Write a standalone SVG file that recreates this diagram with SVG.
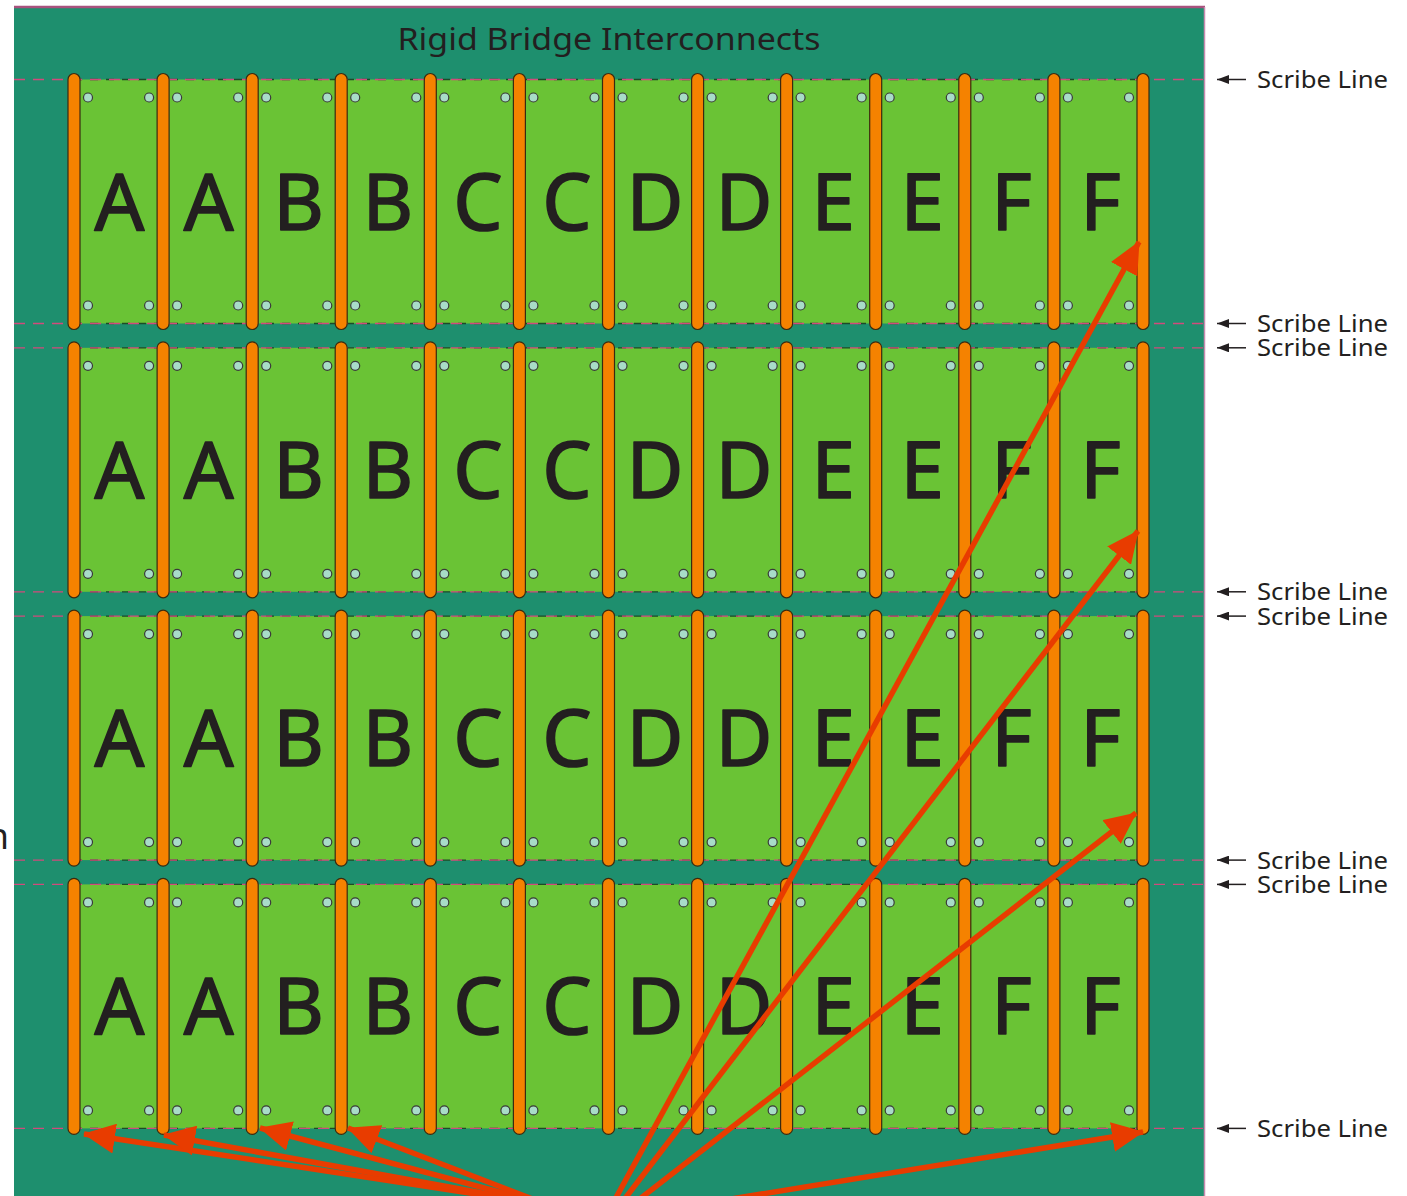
<svg xmlns="http://www.w3.org/2000/svg" xmlns:xlink="http://www.w3.org/1999/xlink" width="1407" height="1196" viewBox="0 0 1407 1196">
<style>
.lt{font-family:"Comic Sans MS","Noto Sans","DejaVu Sans",sans-serif;font-size:78px;fill:#231f20;stroke:#231f20;stroke-width:1.6;stroke-linejoin:round;text-anchor:middle}
.lbl{font-family:"Comic Sans MS","Noto Sans","DejaVu Sans",sans-serif;font-size:23px;fill:#231f20}
.ttl{font-family:"Comic Sans MS","Noto Sans","DejaVu Sans",sans-serif;font-size:30px;fill:#231f20;text-anchor:middle}
.dot{fill:#a8dcc8;stroke:#3a3a3a;stroke-width:1.2}
.bar{fill:#f58200;stroke:#3a2a10;stroke-width:1.2}
.grn{fill:#6ac335}
.scr{stroke:#d24a7c;stroke-width:1.3;stroke-dasharray:11 8;fill:none}
.edg{stroke:#1d4a28;stroke-width:1.3;stroke-dasharray:8 8;fill:none}
.arr{stroke:#e83c00;stroke-width:5.5;fill:none;marker-end:url(#ah)}
.lar{stroke:#231f20;stroke-width:1.5;fill:none;marker-end:url(#sh)}
</style>
<defs>
<marker id="ah" markerUnits="userSpaceOnUse" markerWidth="32" markerHeight="30" refX="31" refY="15" orient="auto"><path d="M0,0 L32,15 L0,30 z" fill="#e83c00"/></marker>
<marker id="sh" markerUnits="userSpaceOnUse" markerWidth="12" markerHeight="9" refX="12" refY="4.5" orient="auto"><path d="M0,0 L12,4.5 L0,9 z" fill="#231f20"/></marker>
<g id="dots"><circle class="dot" cx="14" cy="18" r="4.5"/><circle class="dot" cx="75.08" cy="18" r="4.5"/><circle class="dot" cx="14" cy="226" r="4.5"/><circle class="dot" cx="75.08" cy="226" r="4.5"/></g>
<rect id="bar" class="bar" x="-6" y="-6" width="12" height="256" rx="6"/>
<g id="bars"><use xlink:href="#bar" x="74"/><use xlink:href="#bar" x="163.1"/><use xlink:href="#bar" x="252.2"/><use xlink:href="#bar" x="341.2"/><use xlink:href="#bar" x="430.3"/><use xlink:href="#bar" x="519.4"/><use xlink:href="#bar" x="608.5"/><use xlink:href="#bar" x="697.6"/><use xlink:href="#bar" x="786.6"/><use xlink:href="#bar" x="875.7"/><use xlink:href="#bar" x="964.8"/><use xlink:href="#bar" x="1053.9"/><use xlink:href="#bar" x="1143"/></g>
<g id="cells"><g><use xlink:href="#dots" x="74"/><text class="lt" x="119.5" y="150">A</text></g><g><use xlink:href="#dots" x="163.1"/><text class="lt" x="208.6" y="150">A</text></g><g><use xlink:href="#dots" x="252.2"/><text class="lt" x="298.7" y="150">B</text></g><g><use xlink:href="#dots" x="341.2"/><text class="lt" x="387.8" y="150">B</text></g><g><use xlink:href="#dots" x="430.3"/><text class="lt" x="477.9" y="150">C</text></g><g><use xlink:href="#dots" x="519.4"/><text class="lt" x="567" y="150">C</text></g><g><use xlink:href="#dots" x="608.5"/><text class="lt" x="655" y="150">D</text></g><g><use xlink:href="#dots" x="697.6"/><text class="lt" x="744.1" y="150">D</text></g><g><use xlink:href="#dots" x="786.6"/><text class="lt" x="833.2" y="150">E</text></g><g><use xlink:href="#dots" x="875.7"/><text class="lt" x="922.3" y="150">E</text></g><g><use xlink:href="#dots" x="964.8"/><text class="lt" x="1011.4" y="150">F</text></g><g><use xlink:href="#dots" x="1053.9"/><text class="lt" x="1100.5" y="150">F</text></g></g>
</defs>
<g id="background">
<rect x="14" y="8" width="1190.5" height="1188" fill="#1e8f6e"/>
<line x1="14" y1="7" x2="1205" y2="7" stroke="#a8527e" stroke-width="2.5"/>
<line x1="1204.5" y1="7" x2="1204.5" y2="1196" stroke="#c88ab0" stroke-width="1.5"/>
</g>
<g id="title"><text class="ttl" x="609" y="50" textLength="423" lengthAdjust="spacingAndGlyphs">Rigid Bridge Interconnects</text></g>
<g id="row1" transform="translate(0,79.5)"><rect class="grn" x="74" y="0" width="1069" height="244"/><line class="edg" x1="74" y1="0" x2="1143" y2="0"/><line class="edg" x1="74" y1="244" x2="1143" y2="244"/><use xlink:href="#cells"/></g>
<g id="row2" transform="translate(0,347.8)"><rect class="grn" x="74" y="0" width="1069" height="244"/><line class="edg" x1="74" y1="0" x2="1143" y2="0"/><line class="edg" x1="74" y1="244" x2="1143" y2="244"/><use xlink:href="#cells"/></g>
<g id="row3" transform="translate(0,616.1)"><rect class="grn" x="74" y="0" width="1069" height="244"/><line class="edg" x1="74" y1="0" x2="1143" y2="0"/><line class="edg" x1="74" y1="244" x2="1143" y2="244"/><use xlink:href="#cells"/></g>
<g id="row4" transform="translate(0,884.4)"><rect class="grn" x="74" y="0" width="1069" height="244"/><line class="edg" x1="74" y1="0" x2="1143" y2="0"/><line class="edg" x1="74" y1="244" x2="1143" y2="244"/><use xlink:href="#cells"/></g>
<g id="scribe-lines">
<line class="scr" x1="14" y1="79.5" x2="1204" y2="79.5"/>
<line class="scr" x1="14" y1="323.5" x2="1204" y2="323.5"/>
<line class="scr" x1="14" y1="347.8" x2="1204" y2="347.8"/>
<line class="scr" x1="14" y1="591.8" x2="1204" y2="591.8"/>
<line class="scr" x1="14" y1="616.1" x2="1204" y2="616.1"/>
<line class="scr" x1="14" y1="860.1" x2="1204" y2="860.1"/>
<line class="scr" x1="14" y1="884.4" x2="1204" y2="884.4"/>
<line class="scr" x1="14" y1="1128.4" x2="1204" y2="1128.4"/>
</g>
<g id="bridges">
<use xlink:href="#bars" y="79.5"/>
<use xlink:href="#bars" y="347.8"/>
<use xlink:href="#bars" y="616.1"/>
<use xlink:href="#bars" y="884.4"/>
</g>
<g id="connectors">
<line class="arr" x1="548" y1="1205" x2="84" y2="1134"/>
<line class="arr" x1="548" y1="1205" x2="164" y2="1135"/>
<line class="arr" x1="548" y1="1205" x2="260" y2="1128"/>
<line class="arr" x1="548" y1="1205" x2="348" y2="1128"/>
<line class="arr" x1="694" y1="1205" x2="1143" y2="1132"/>
<line class="arr" x1="612" y1="1205" x2="1139" y2="242"/>
<line class="arr" x1="620" y1="1205" x2="1138" y2="531"/>
<line class="arr" x1="632" y1="1205" x2="1136" y2="813"/>
</g>
<g id="labels">
<g id="lbl1"><line class="lar" x1="1246" y1="79.5" x2="1217" y2="79.5"/><text class="lbl" x="1257" y="88" textLength="131" lengthAdjust="spacingAndGlyphs">Scribe Line</text></g>
<g id="lbl2"><line class="lar" x1="1246" y1="323.5" x2="1217" y2="323.5"/><text class="lbl" x="1257" y="332" textLength="131" lengthAdjust="spacingAndGlyphs">Scribe Line</text></g>
<g id="lbl3"><line class="lar" x1="1246" y1="347.8" x2="1217" y2="347.8"/><text class="lbl" x="1257" y="356.3" textLength="131" lengthAdjust="spacingAndGlyphs">Scribe Line</text></g>
<g id="lbl4"><line class="lar" x1="1246" y1="591.8" x2="1217" y2="591.8"/><text class="lbl" x="1257" y="600.3" textLength="131" lengthAdjust="spacingAndGlyphs">Scribe Line</text></g>
<g id="lbl5"><line class="lar" x1="1246" y1="616.1" x2="1217" y2="616.1"/><text class="lbl" x="1257" y="624.6" textLength="131" lengthAdjust="spacingAndGlyphs">Scribe Line</text></g>
<g id="lbl6"><line class="lar" x1="1246" y1="860.1" x2="1217" y2="860.1"/><text class="lbl" x="1257" y="868.6" textLength="131" lengthAdjust="spacingAndGlyphs">Scribe Line</text></g>
<g id="lbl7"><line class="lar" x1="1246" y1="884.4" x2="1217" y2="884.4"/><text class="lbl" x="1257" y="892.9" textLength="131" lengthAdjust="spacingAndGlyphs">Scribe Line</text></g>
<g id="lbl8"><line class="lar" x1="1246" y1="1128.4" x2="1217" y2="1128.4"/><text class="lbl" x="1257" y="1136.9" textLength="131" lengthAdjust="spacingAndGlyphs">Scribe Line</text></g>
<g id="lbl-left"><text class="lbl" x="9" y="849" text-anchor="end" style="font-size:36px">n</text></g>
</g>
</svg>
